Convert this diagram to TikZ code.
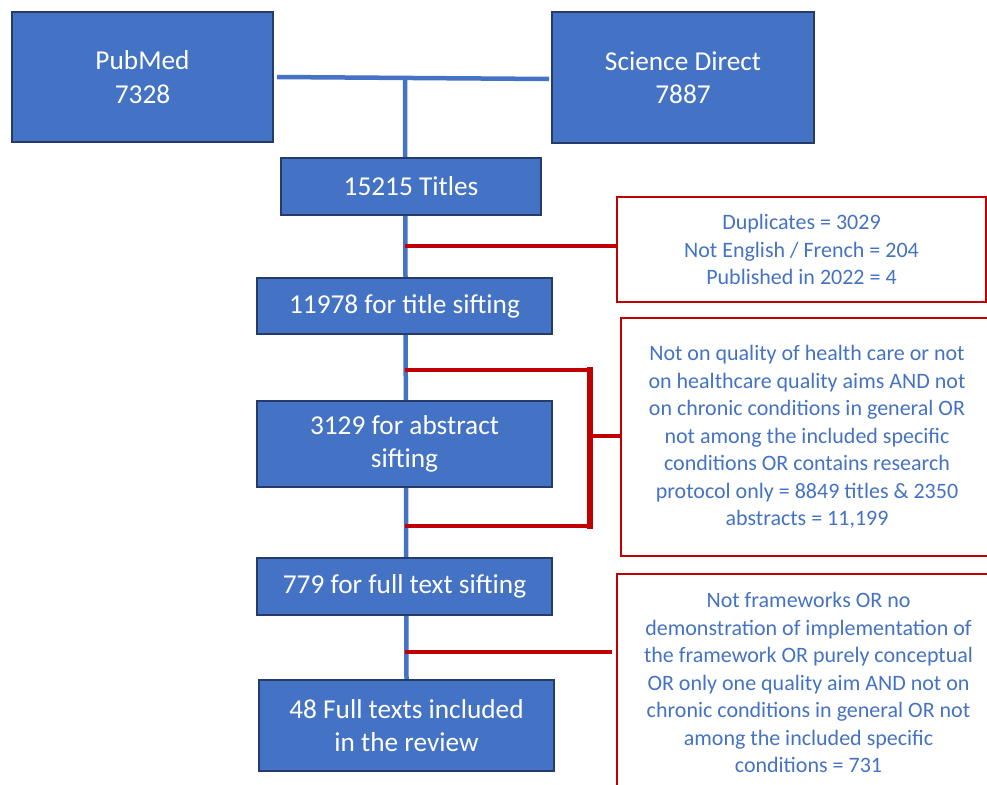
\documentclass[tikz,border=0pt]{standalone}
\usepackage{fontspec}
\setmainfont{Carlito}
\usetikzlibrary{backgrounds}
\definecolor{boxblue}{HTML}{4472C4}
\definecolor{boxnavy}{HTML}{253C6B}
\definecolor{exred}{HTML}{C00000}
\tikzset{
  bluebox/.style={draw=boxnavy, fill=boxblue, line width=2pt, text=white, align=center, inner sep=0pt,
    font=\fontsize{27.3}{33.5}\selectfont},
  redbox/.style={draw=exred, line width=2.2pt, text=boxblue, align=center, inner sep=0pt,
    font=\fontsize{22}{27.5}\selectfont},
  blueline/.style={draw=boxblue, line width=4.5pt},
  redline/.style={draw=exred, line width=4.8pt},
  bracketline/.style={draw=exred, line width=6pt},
}
\begin{document}
\begin{tikzpicture}[x=1pt, y=-1pt]
\useasboundingbox (0,0) rectangle (987,784);
\clip (0,0) rectangle (987,784);
\node[bluebox, minimum width=261pt, minimum height=130pt] (pubmed) at (142.5,77) {\raisebox{-2pt}{PubMed}\\\raisebox{-2pt}{7328}};
\node[bluebox, minimum width=262pt, minimum height=131pt] (scidir) at (683,77.5) {\raisebox{-2pt}{Science Direct}\\\raisebox{-2pt}{7887}};
\node[bluebox, minimum width=260pt, minimum height=57pt] (titles) at (411,186.5) {\raisebox{-2pt}{15215 Titles}};
\node[bluebox, minimum width=295pt, minimum height=56pt] (title) at (404.5,306) {\raisebox{-2pt}{11978 for title sifting}};
\node[bluebox, minimum width=295pt, minimum height=86pt] (abstr) at (404.5,444) {\raisebox{-2pt}{3129 for abstract}\\\raisebox{-2pt}{sifting}};
\node[bluebox, minimum width=295pt, minimum height=57pt] (full) at (404.5,586.5) {\raisebox{-2pt}{779 for full text sifting}};
\node[bluebox, minimum width=295pt, minimum height=91pt] (incl) at (406.5,725.5) {\raisebox{-2pt}{48 Full texts included}\\\raisebox{-2pt}{in the review}};

\node[redbox, minimum width=369pt, minimum height=105pt] (ex1) at (801.5,249.5)
  {Duplicates = 3029\\Not English / French = 204\\Published in 2022 = 4};
\node[redbox, minimum width=372pt, minimum height=238pt] (ex2) at (807,437)
  {Not on quality of health care or not\\on healthcare quality aims AND not\\on chronic conditions in general OR\\not among the included specific\\conditions OR contains research\\protocol only = 8849 titles \& 2350\\abstracts = 11,199};
\node[redbox, minimum width=383pt, minimum height=217pt] (ex3) at (808.5,682.5)
  {Not frameworks OR no\\demonstration of implementation of\\the framework OR purely conceptual\\OR only one quality aim AND not on\\chronic conditions in general OR not\\among the included specific\\conditions = 731};

\coordinate (j0) at (405,78);
\coordinate (j1) at (405,246);
\coordinate (b1) at (405,370);
\coordinate (b2) at (405,526);
\coordinate (bc) at (590,436);
\coordinate (j3) at (405,652);

\begin{pgfonlayer}{background}
\draw[blueline] ([xshift=3pt]pubmed.east) -- ([xshift=-2pt,yshift=-1.5pt]scidir.west);
\draw[blueline] (j0) -- (incl.north);
\end{pgfonlayer}

\draw[redline] (j1) -- (ex1.west |- j1);
\draw[redline] (b1) -- (b1 -| bc);
\draw[redline] (b2) -- (b2 -| bc);
\draw[bracketline, line cap=rect] (b1 -| bc) -- (b2 -| bc);
\draw[redline] (bc) -- (ex2.west |- bc);
\draw[redline] (j3) -- ([xshift=-4pt]ex3.west |- j3);
\end{tikzpicture}
\end{document}
